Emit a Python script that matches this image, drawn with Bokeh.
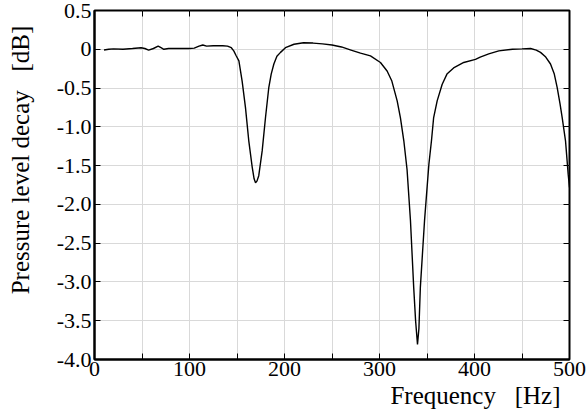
from bokeh.plotting import figure
from bokeh.models import (FixedTicker, CustomJSTickFormatter, LinearAxis, Title, Range1d)
from bokeh.embed import file_html
from bokeh.resources import INLINE

# --- data ---
freq_hz = [10, 15, 20, 30, 40, 49, 53, 57, 62, 67, 70, 73, 78, 90, 100, 105, 110, 114, 118,
           125, 135, 140, 144, 146.6, 149, 152, 155.4, 158.9, 162.4, 166, 168, 169.5, 171,
           172.9, 176.5, 180, 183.5, 186, 188.8, 192, 195.8, 201, 210, 220, 230, 240, 250,
           260, 270, 280, 290.5, 301, 308, 313, 318.6, 322, 325.6, 329, 332.6, 336, 338,
           340, 341.5, 343, 347.4, 352, 354.7, 357, 360.7, 366, 371, 378, 388.7, 401, 406,
           415, 425.6, 440, 450, 459, 465, 469.5, 475, 480, 484, 487, 490, 492.3, 495.8,
           498.6, 500]
decay_db = [-0.01, 0.0, 0.005, 0.0, 0.01, 0.02, 0.01, -0.01, 0.01, 0.04, 0.02, 0.0, 0.01,
            0.01, 0.01, 0.015, 0.04, 0.055, 0.04, 0.045, 0.045, 0.04, 0.02, -0.02, -0.08,
            -0.15, -0.41, -0.75, -1.18, -1.52, -1.67, -1.72, -1.70, -1.63, -1.31, -0.88,
            -0.49, -0.32, -0.19, -0.09, -0.04, 0.02, 0.065, 0.085, 0.08, 0.07, 0.055, 0.03,
            -0.01, -0.05, -0.086, -0.17, -0.28, -0.41, -0.665, -0.88, -1.18, -1.55, -2.21,
            -3.07, -3.5, -3.806, -3.6, -3.07, -2.21, -1.48, -1.18, -0.88, -0.665, -0.45,
            -0.32, -0.24, -0.17, -0.13, -0.10, -0.06, -0.02, 0.0, 0.005, 0.01, -0.01, -0.04,
            -0.10, -0.19, -0.32, -0.49, -0.70, -0.88, -1.18, -1.61, -1.78]

x_major = [0, 100, 200, 300, 400, 500]
x_minor = [50, 150, 250, 350, 450]
y_ticks = [0.5, 0.0, -0.5, -1.0, -1.5, -2.0, -2.5, -3.0, -3.5, -4.0]
NB = "\u00a0"
x_label = "Frequency" + NB * 3 + "[Hz]"
y_label = "Pressure" + NB + "level" + NB + "decay" + NB * 3 + "[dB]"

FONT = "Liberation Serif"

p = figure(width=586, height=414, output_backend="svg", toolbar_location=None,
           x_range=Range1d(0, 500), y_range=Range1d(-4.0, 0.5),
           min_border_left=94, min_border_right=17, min_border_top=10, min_border_bottom=55,
           background_fill_color="white", border_fill_color="white")

p.line(freq_hz, decay_db, line_color="black", line_width=1.4)

p.outline_line_color = "black"
p.outline_line_width = 2

yfmt = CustomJSTickFormatter(code="return (Math.abs(tick) < 1e-9) ? '0' : tick.toFixed(1);")

xa = p.xaxis[0]
xa.ticker = FixedTicker(ticks=x_major, minor_ticks=x_minor)
ya = p.yaxis[0]
ya.ticker = FixedTicker(ticks=y_ticks)
ya.formatter = yfmt

for ax in (xa, ya):
    ax.major_tick_in = 6
    ax.major_tick_out = 0
    ax.minor_tick_in = 6
    ax.minor_tick_out = 0
    ax.major_tick_line_color = "black"
    ax.minor_tick_line_color = "black"
    ax.axis_line_color = "black"
    ax.axis_line_width = 2
    ax.major_label_text_font = FONT
    ax.major_label_text_font_size = "22px"
    ax.major_label_text_color = "black"
ya.major_label_standoff = 3
xa.major_label_standoff = 2

# y axis label: leading no-break spaces shift the centred label toward the top end
ya.axis_label = NB * 8 + y_label
ya.axis_label_text_font = FONT
ya.axis_label_text_font_size = "25px"
ya.axis_label_text_font_style = "normal"
ya.axis_label_text_color = "black"
ya.axis_label_standoff = 20

# mirrored inner ticks on the top and right frame edges (labels not drawn)
ra = LinearAxis(ticker=FixedTicker(ticks=y_ticks))
ta = LinearAxis(ticker=FixedTicker(ticks=x_major, minor_ticks=x_minor))
for ax in (ra, ta):
    ax.major_tick_in = 6
    ax.major_tick_out = 0
    ax.minor_tick_in = 6
    ax.minor_tick_out = 0
    ax.major_tick_line_color = "black"
    ax.minor_tick_line_color = "black"
    ax.axis_line_color = None
    ax.major_label_text_font_size = "1px"
    ax.major_label_text_color = None
    ax.major_label_standoff = 0
p.add_layout(ra, "right")
p.add_layout(ta, "above")

p.xgrid.ticker = FixedTicker(ticks=x_major, minor_ticks=x_minor)
p.ygrid.ticker = FixedTicker(ticks=y_ticks)
for g in (p.xgrid[0], p.ygrid[0]):
    g.grid_line_color = "#d9d9d9"
    g.grid_line_width = 1
p.xgrid[0].minor_grid_line_color = "#d9d9d9"
p.xgrid[0].minor_grid_line_width = 1

tx = Title(text=x_label, align="right", offset=9, text_font=FONT, text_font_size="25px",
           text_font_style="normal", text_color="black", standoff=2)
p.add_layout(tx, "below")

open("out.html", "w").write(file_html(p, INLINE))
